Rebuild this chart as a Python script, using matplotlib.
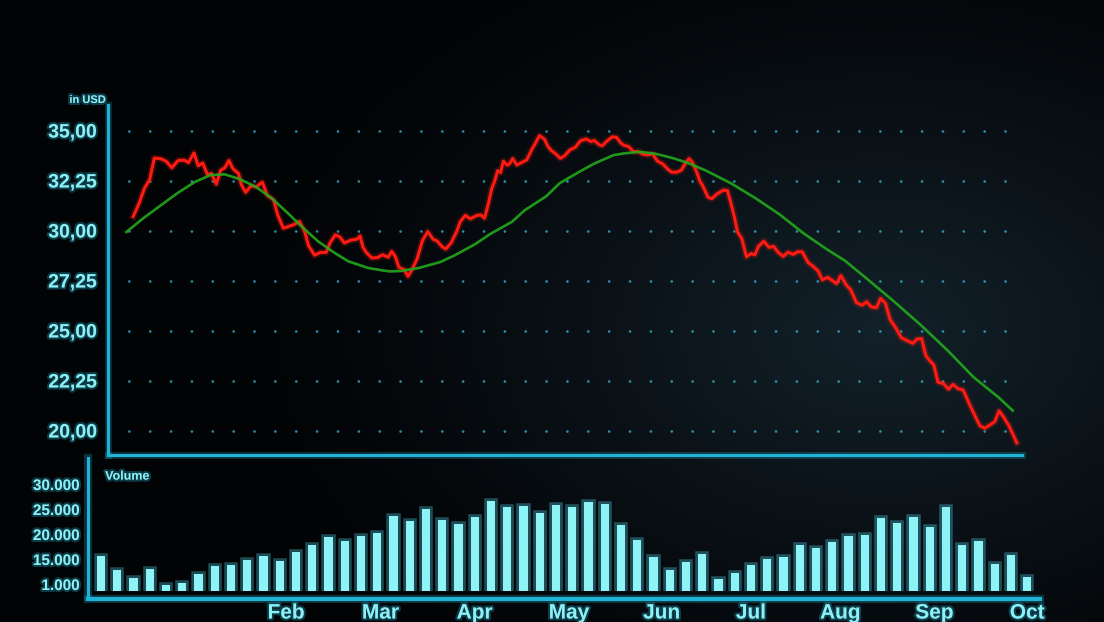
import numpy as np
import matplotlib
matplotlib.use('Agg')
import matplotlib.pyplot as plt
import matplotlib.patheffects as pe

# ---------------- data ----------------
price_ticks = [20, 22.5, 25, 27.5, 30, 32.5, 35]
price_labels = ['20,00', '22,25', '25,00', '27,25', '30,00', '32,25', '35,00']
vol_ticks = [10000, 15000, 20000, 25000, 30000]
vol_labels = ['1.000', '15.000', '20.000', '25.000', '30.000']
months = ['Feb', 'Mar', 'Apr', 'May', 'Jun', 'Jul', 'Aug', 'Sep', 'Oct']
month_pos = [11.4, 17.2, 23.0, 28.8, 34.5, 40.0, 45.5, 51.3, 57.0]

volume = [15800, 12880, 11290, 13080, 9810, 10320, 12110, 13660, 13940, 14880,
          15740, 14620, 16500, 18000, 19460, 18710, 19760, 20220, 23610, 22650,
          25030, 22900, 22150, 23480, 26800, 25460, 25660, 24320, 25850, 25440,
          26410, 26020, 21940, 18990, 15510, 12990, 14470, 16150, 11120, 12260,
          13910, 15010, 15570, 17870, 17360, 18600, 19640, 19980, 23400, 22340,
          23530, 21440, 25460, 17890, 18710, 14090, 15890, 11480]

price_x = [1.98, 2.36, 2.67, 3.00, 3.28, 3.69, 4.02, 4.36, 4.75, 5.13,
           5.38, 5.72, 5.98, 6.26, 6.55, 6.79, 7.10, 7.36, 7.62, 7.87,
           8.13, 8.46, 8.64, 8.90, 9.21, 9.55, 9.93, 10.23, 10.62, 10.87,
           11.22, 11.55, 11.89, 12.21, 12.52, 12.77, 13.14, 13.50, 13.86, 14.09,
           14.42, 14.71, 14.98, 15.36, 15.75, 15.95, 16.11, 16.33, 16.67, 17.00,
           17.33, 17.67, 17.89, 18.11, 18.33, 18.67, 18.89, 19.11, 19.45, 19.78,
           20.11, 20.45, 20.67, 21.00, 21.22, 21.55, 21.89, 22.11, 22.42, 22.73,
           23.14, 23.38, 23.60, 23.82, 24.05, 24.21, 24.41, 24.59, 24.76, 25.00,
           25.14, 25.34, 25.59, 25.88, 26.20, 26.53, 26.75, 26.98, 27.29, 27.50,
           27.71, 28.02, 28.27, 28.54, 28.86, 29.18, 29.51, 29.85, 30.16, 30.35,
           30.65, 30.84, 31.14, 31.46, 31.73, 31.98, 32.18, 32.47, 32.76, 33.06,
           33.35, 33.65, 33.94, 34.25, 34.56, 34.88, 35.13, 35.44, 35.72, 35.96,
           36.19, 36.39, 36.65, 36.84, 37.07, 37.35, 37.59, 37.91, 38.29, 38.55,
           38.78, 38.98, 39.17, 39.44, 39.72, 40.00, 40.24, 40.46, 40.79, 41.11,
           41.39, 41.67, 41.98, 42.28, 42.59, 42.87, 43.15, 43.52, 43.83, 44.13,
           44.39, 44.72, 45.00, 45.26, 45.53, 45.88, 46.14, 46.49, 46.84, 47.11,
           47.41, 47.72, 47.98, 48.27, 48.57, 48.90, 49.26, 49.63, 49.96, 50.23,
           50.50, 50.76, 50.99, 51.25, 51.51, 51.86, 52.16, 52.43, 52.75, 53.06,
           53.46, 53.78, 54.09, 54.39, 54.69, 55.00, 55.27, 55.56, 55.87, 56.11,
           56.36]
price = [30.72, 31.42, 32.13, 32.58, 33.65, 33.61, 33.48, 33.16, 33.53, 33.54,
         33.42, 33.90, 33.26, 33.40, 32.82, 32.88, 32.34, 33.04, 33.16, 33.53,
         33.10, 32.88, 32.31, 31.93, 32.25, 32.21, 32.44, 31.78, 31.56, 30.81,
         30.14, 30.23, 30.33, 30.48, 30.01, 29.27, 28.79, 28.93, 28.93, 29.40,
         29.81, 29.69, 29.40, 29.54, 29.59, 29.75, 29.21, 28.92, 28.65, 28.67,
         28.81, 28.69, 28.98, 28.73, 28.19, 28.06, 27.73, 28.02, 28.60, 29.52,
         29.97, 29.58, 29.51, 29.21, 29.10, 29.41, 29.98, 30.47, 30.78, 30.61,
         30.78, 30.80, 30.64, 31.30, 32.13, 32.45, 33.02, 32.92, 33.49, 33.29,
         33.36, 33.62, 33.30, 33.42, 33.56, 34.10, 34.41, 34.77, 34.59, 34.23,
         34.03, 33.83, 33.63, 33.77, 34.06, 34.18, 34.51, 34.60, 34.47, 34.53,
         34.32, 34.26, 34.50, 34.71, 34.68, 34.40, 34.29, 34.22, 33.97, 33.97,
         33.84, 33.80, 33.86, 33.49, 33.36, 33.09, 32.94, 32.94, 33.05, 33.38,
         33.62, 33.44, 32.97, 32.52, 32.20, 31.69, 31.62, 31.85, 32.04, 32.02,
         31.35, 30.70, 29.96, 29.61, 28.71, 28.87, 28.81, 29.23, 29.49, 29.18,
         29.23, 28.93, 28.73, 28.94, 28.83, 28.96, 28.96, 28.42, 28.23, 28.00,
         27.56, 27.68, 27.53, 27.37, 27.77, 27.28, 27.06, 26.42, 26.29, 26.46,
         26.20, 26.17, 26.63, 26.39, 25.56, 25.17, 24.66, 24.51, 24.38, 24.60,
         24.62, 23.77, 23.53, 23.31, 22.44, 22.36, 22.09, 22.33, 22.11, 22.05,
         21.32, 20.77, 20.26, 20.14, 20.30, 20.46, 21.01, 20.68, 20.27, 19.86,
         19.41]

trend_x = [1.56, 2.62, 3.69, 4.75, 5.77, 6.74, 7.62, 8.52, 9.50, 10.48,
           11.45, 12.38, 13.38, 14.31, 15.20, 16.45, 17.33, 17.78, 18.44, 19.55,
           20.89, 21.78, 23.04, 23.93, 25.29, 26.08, 27.39, 28.23, 29.48, 30.35,
           31.53, 32.18, 33.16, 34.14, 35.17, 36.10, 37.26, 38.78, 40.28, 41.76,
           43.24, 44.72, 45.79, 47.02, 48.74, 50.45, 52.11, 53.70, 55.24, 56.11]
trend = [29.95, 30.65, 31.29, 31.92, 32.45, 32.80, 32.83, 32.60, 32.22, 31.66,
         30.93, 30.20, 29.47, 28.94, 28.49, 28.15, 28.03, 27.98, 28.00, 28.15,
         28.45, 28.79, 29.35, 29.84, 30.46, 31.04, 31.73, 32.39, 32.98, 33.37,
         33.79, 33.88, 33.96, 33.86, 33.65, 33.41, 33.01, 32.38, 31.64, 30.83,
         29.88, 29.06, 28.51, 27.69, 26.52, 25.30, 24.02, 22.69, 21.68, 21.02]

# ---------------- style ----------------
plt.rcParams['font.family'] = ['Liberation Sans', 'DejaVu Sans']
plt.rcParams['font.weight'] = 'bold'

CYAN = '#1fb4d6'
TEXT = '#8cf0f6'
GLOW_TXT = [pe.withStroke(linewidth=3, foreground='#1a7f95', alpha=0.45)]

W, H = 1104, 622
fig = plt.figure(figsize=(W / 100, H / 100), dpi=100)
fig.patch.set_facecolor('#020304')

# background vignette
bg = fig.add_axes([0, 0, 1, 1], zorder=-10)
yy, xx = np.mgrid[0:H, 0:W]
d = np.sqrt(((xx - 880) / 640.0) ** 2 + ((yy - 330) / 430.0) ** 2)
k = np.clip(1 - d, 0, 1) ** 1.2
c0 = np.array([2, 3, 5]) / 255.0
c1 = np.array([19, 33, 42]) / 255.0
bg.imshow(c0 + (c1 - c0) * k[..., None], aspect='auto')
bg.axis('off')


def px_rect(l, t, r, b):
    return [l / W, 1 - b / H, (r - l) / W, (b - t) / H]


# ---------------- price panel ----------------
ax = fig.add_axes(px_rect(108, 105, 1022, 455))
ax.set_facecolor('none')
ax.set_xlim(0.43, 56.68)
ax.set_ylim(18.8, 36.3)
for s in ['top', 'right']:
    ax.spines[s].set_visible(False)
for s in ['left', 'bottom']:
    ax.spines[s].set_color(CYAN)
    ax.spines[s].set_linewidth(2.2)
    ax.spines[s].set_path_effects([pe.Stroke(linewidth=5, foreground=CYAN, alpha=0.25), pe.Normal()])
ax.set_xticks([])
ax.set_yticks(price_ticks)
ax.set_yticklabels(price_labels)
ax.tick_params(axis='y', length=0, pad=8, labelsize=14, labelcolor=TEXT)
for lab in ax.get_yticklabels():
    lab.set_fontweight('bold')
    lab.set_path_effects(GLOW_TXT)
ax.yaxis.grid(True, color='#35b8d6', linestyle=(0, (0.01, 7.5)), linewidth=2.0,
              alpha=0.75, dash_capstyle='round')
ax.set_axisbelow(True)

ax.plot(price_x, price, color='#ff1a12', lw=2.2, zorder=4, solid_joinstyle='round',
        path_effects=[pe.Stroke(linewidth=5, foreground='#ff2010', alpha=0.2), pe.Normal()])
ax.plot(trend_x, trend, color='#22a81c', lw=1.9, zorder=5, alpha=0.9)

fig.text(106 / W, 1 - 100 / H, 'in USD', ha='right', va='center', fontsize=8,
         color=TEXT, fontweight='bold', path_effects=GLOW_TXT)

# ---------------- volume panel ----------------
axv = fig.add_axes(px_rect(88, 458, 1040.25, 591))
axv.set_facecolor('none')
axv.set_xlim(-0.8, 57.8)
axv.set_ylim(8700, 35300)
for s in ['top', 'right']:
    axv.spines[s].set_visible(False)
axv.spines['bottom'].set_position(('outward', 6))
axv.spines['bottom'].set_linewidth(3.0)
axv.spines['left'].set_linewidth(2.2)
axv.spines['left'].set_bounds(7500, 35300)
for s in ['left', 'bottom']:
    axv.spines[s].set_color(CYAN)
    axv.spines[s].set_path_effects([pe.Stroke(linewidth=6, foreground=CYAN, alpha=0.25), pe.Normal()])

axv.bar(range(len(volume)), volume, width=0.5, color='#8ef3f7', zorder=3,
        path_effects=[pe.Stroke(linewidth=4, foreground='#4fd2ea', alpha=0.35), pe.Normal()])

axv.set_yticks(vol_ticks)
axv.set_yticklabels(vol_labels)
axv.tick_params(axis='y', length=0, pad=6, labelsize=11, labelcolor=TEXT)
axv.set_xticks(month_pos)
axv.set_xticklabels(months)
axv.tick_params(axis='x', length=0, pad=3, labelsize=15, labelcolor=TEXT)
for lab in axv.get_yticklabels() + axv.get_xticklabels():
    lab.set_fontweight('bold')
    lab.set_path_effects(GLOW_TXT)

axv.text(0.018, 0.86, 'Volume', transform=axv.transAxes, fontsize=9, color=TEXT,
         fontweight='bold', va='center', ha='left', path_effects=GLOW_TXT)

fig.savefig('out.png', dpi=100, facecolor=fig.get_facecolor())
